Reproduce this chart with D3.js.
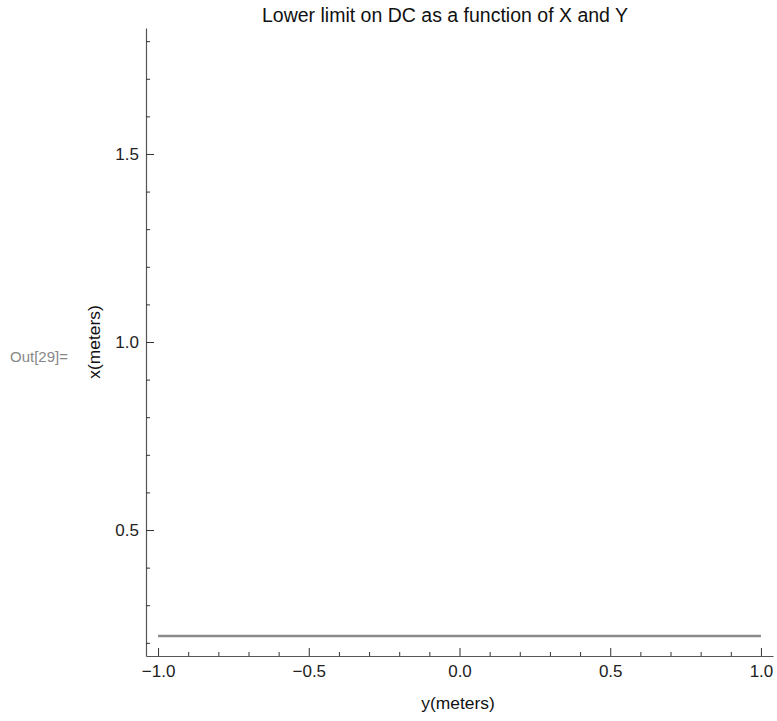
<!DOCTYPE html>
<html>
<head>
<meta charset="utf-8">
<script src="https://cdn.jsdelivr.net/npm/d3@7"></script>
<style>
  body { margin: 0; background: #fff; }
  text { font-family: "Liberation Sans", Arial, sans-serif; }
</style>
</head>
<body>
<div class="chart"></div>
<script>
// series: DC lower limit, flat across y
var yPoints = [-1, 1];
var xPoints = [0.218, 0.218];

var xMajorTicks = [-1, -0.5, 0, 0.5, 1];
var xTickLabels = ["\u22121.0", "\u22120.5", "0.0", "0.5", "1.0"];
var yMajorTicks = [0.5, 1.0, 1.5];
var yTickLabels = ["0.5", "1.0", "1.5"];

var W = 777, H = 721;
var plot = { left : 146, right : 773, top : 28, bottom : 656 };

var x = d3.scaleLinear().domain([-1.04, 1.04]).range([plot.left, plot.right]);
var y = d3.scaleLinear().domain([0.165, 1.835]).range([plot.bottom, plot.top]);

var svg = d3.select(".chart").append("svg")
    .attr("width", W)
    .attr("height", H);

var axisColor = "#555";

// minor ticks every 0.1
var xMinor = d3.range(-10, 11).map(function (d) { return d / 10; })
    .filter(function (d) { return Math.abs(d * 2 - Math.round(d * 2)) > 1e-9; });
var yMinor = d3.range(2, 19).map(function (d) { return d / 10; })
    .filter(function (d) { return Math.abs(d * 2 - Math.round(d * 2)) > 1e-9; });

var xAxis = d3.axisBottom(x)
    .tickValues(xMajorTicks)
    .tickFormat(function (d, i) { return xTickLabels[i]; })
    .tickSizeInner(-8).tickSizeOuter(0);

var gx = svg.append("g")
    .attr("transform", "translate(0," + plot.bottom + ")")
    .call(xAxis);

svg.append("g")
    .attr("transform", "translate(0," + plot.bottom + ")")
    .call(d3.axisBottom(x).tickValues(xMinor).tickFormat("").tickSizeInner(-4).tickSizeOuter(0))
    .select(".domain").remove();

var yAxis = d3.axisLeft(y)
    .tickValues(yMajorTicks)
    .tickFormat(function (d, i) { return yTickLabels[i]; })
    .tickSizeInner(-8).tickSizeOuter(0);

var gy = svg.append("g")
    .attr("transform", "translate(" + plot.left + ",0)")
    .call(yAxis);

svg.append("g")
    .attr("transform", "translate(" + plot.left + ",0)")
    .call(d3.axisLeft(y).tickValues(yMinor).tickFormat("").tickSizeInner(-4).tickSizeOuter(0))
    .select(".domain").remove();

svg.selectAll(".domain").attr("stroke", axisColor).attr("stroke-width", 1.2);
svg.selectAll(".tick line").attr("stroke", "#333").attr("stroke-width", 1);
svg.selectAll(".tick text")
    .attr("font-size", 17)
    .attr("fill", "#222")
    .attr("font-family", "Liberation Sans, Arial, sans-serif");

// labels sit outside the axis even though ticks point inward
gy.selectAll(".tick text").attr("x", -7);
gx.selectAll(".tick text").attr("y", 9);

var line = d3.line()
    .x(function (d, i) { return x(yPoints[i]); })
    .y(function (d) { return y(d); });

svg.append("path")
    .datum(xPoints)
    .attr("d", line)
    .attr("fill", "none")
    .attr("stroke", "#8a8a8a")
    .attr("stroke-width", 2.6);

svg.append("text")
    .attr("x", 445).attr("y", 22)
    .attr("text-anchor", "middle")
    .attr("font-size", 19.5)
    .attr("fill", "#111")
    .text("Lower limit on DC as a function of X and Y");

svg.append("text")
    .attr("x", 458).attr("y", 709)
    .attr("text-anchor", "middle")
    .attr("font-size", 17.4)
    .attr("fill", "#111")
    .text("y(meters)");

svg.append("text")
    .attr("transform", "translate(100,342) rotate(-90)")
    .attr("text-anchor", "middle")
    .attr("font-size", 17.4)
    .attr("fill", "#111")
    .text("x(meters)");

svg.append("text")
    .attr("x", 10).attr("y", 362)
    .attr("font-size", 15)
    .attr("fill", "#888")
    .text("Out[29]=");
</script>
</body>
</html>
